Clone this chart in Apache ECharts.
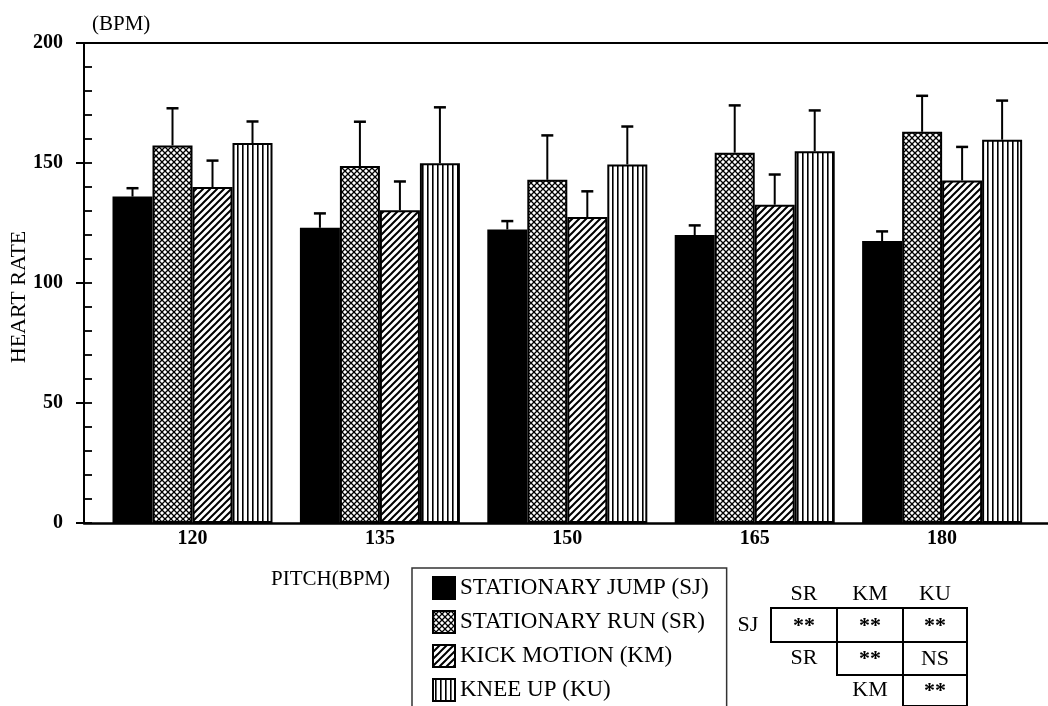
<!DOCTYPE html>
<html>
<head>
<meta charset="utf-8">
<script src="https://cdn.jsdelivr.net/npm/echarts@6/dist/echarts.min.js"></script>
<style>
  html, body { margin: 0; padding: 0; background: #fff; }
  #chart { width: 1048px; height: 706px; }
</style>
</head>
<body>
<div id="chart"></div>
<script>
// ---- data ----
var PITCHES = ['120', '135', '150', '165', '180'];
var SERIES_NAMES = ['STATIONARY JUMP (SJ)', 'STATIONARY RUN (SR)', 'KICK MOTION (KM)', 'KNEE UP (KU)'];

var SJ_MEAN = [136, 123, 122.3, 120, 117.5];
var SR_MEAN = [157.3, 148.7, 143, 154.3, 163];
var KM_MEAN = [140, 130.3, 127.5, 132.6, 142.7];
var KU_MEAN = [158.3, 149.9, 149.4, 154.9, 159.7];

var SJ_SD = [3.5, 6, 3.5, 4, 4];
var SR_SD = [15.5, 18.5, 18.5, 19.7, 15];
var KM_SD = [11, 12, 10.7, 12.6, 14];
var KU_SD = [9, 23.3, 15.8, 17, 16.3];

var Y_TICKS = [0, 50, 100, 150, 200];

// significance table
var TABLE_COLS = ['SR', 'KM', 'KU'];
var TABLE_ROW_LABELS = ['SJ', 'SR', 'KM'];
var TABLE_CELLS = [
  ['**', '**', '**'],
  ['**', 'NS'],
  ['**']
];

var MEANS = [SJ_MEAN, SR_MEAN, KM_MEAN, KU_MEAN];
var SDS = [SJ_SD, SR_SD, KM_SD, KU_SD];

// ---- style ----
var FONT = 'Liberation Serif';
var BAR_W = 40;

function makePattern(kind) {
  var c = document.createElement('canvas');
  var ctx;
  if (kind === 'cross') {
    c.width = 6; c.height = 6;
    ctx = c.getContext('2d');
    ctx.fillStyle = '#fff'; ctx.fillRect(0, 0, 6, 6);
    ctx.strokeStyle = '#000'; ctx.lineWidth = 1.3;
    ctx.beginPath();
    ctx.moveTo(0, 0); ctx.lineTo(6, 6);
    ctx.moveTo(0, 6); ctx.lineTo(6, 0);
    ctx.stroke();
  } else if (kind === 'diag') {
    var s = 7;
    c.width = s; c.height = s;
    ctx = c.getContext('2d');
    ctx.fillStyle = '#fff'; ctx.fillRect(0, 0, s, s);
    ctx.strokeStyle = '#000'; ctx.lineWidth = 2;
    ctx.beginPath();
    ctx.moveTo(-1, s + 1); ctx.lineTo(s + 1, -1);
    ctx.moveTo(-1, 1); ctx.lineTo(1, -1);
    ctx.moveTo(s - 1, s + 1); ctx.lineTo(s + 1, s - 1);
    ctx.stroke();
  } else {
    c.width = 5; c.height = 4;
    ctx = c.getContext('2d');
    ctx.fillStyle = '#fff'; ctx.fillRect(0, 0, 5, 4);
    ctx.fillStyle = '#000'; ctx.fillRect(2, 0, 1.6, 4);
  }
  return { image: c, repeat: 'repeat' };
}

var FILLS = ['#000', makePattern('cross'), makePattern('diag'), makePattern('vert')];

// ---- series ----
var barSeries = SERIES_NAMES.map(function(name, k) {
  return {
    name: name,
    type: 'bar',
    xAxisIndex: 0,
    yAxisIndex: 0,
    barWidth: BAR_W,
    barGap: '0%',
    data: MEANS[k].map(function(v, i) { return [i, v]; }),
    itemStyle: { color: FILLS[k], borderColor: '#000', borderWidth: 2 },
    emphasis: { disabled: true },
    z: 2
  };
});

var errData = [];
MEANS.forEach(function(arr, k) {
  arr.forEach(function(v, i) { errData.push([k, i, v, v + SDS[k][i]]); });
});

function renderErr(params, api) {
  var k = api.value(0), i = api.value(1);
  var top = api.coord([i, api.value(2)]);
  var cap = api.coord([i, api.value(3)]);
  var x = top[0] + (k - 1.5) * BAR_W;
  return {
    type: 'group',
    children: [
      { type: 'line', shape: { x1: x, y1: top[1], x2: x, y2: cap[1] }, style: { stroke: '#000', lineWidth: 2 } },
      { type: 'line', shape: { x1: x - 6, y1: cap[1], x2: x + 6, y2: cap[1] }, style: { stroke: '#000', lineWidth: 2.5 } }
    ]
  };
}

// ---- table graphic ----
var COL_EDGES = [771, 837, 903, 967];
var ROW_EDGES = [608, 642, 675, 706];

function tableGraphics() {
  var g = [];
  var txt = function(x, y, s, bold) {
    return { type: 'text', x: x, y: y, style: { text: s, fill: '#000', font: (bold ? 'bold ' : '') + '22px "' + FONT + '"', align: 'center', verticalAlign: 'middle' } };
  };
  TABLE_COLS.forEach(function(c, j) {
    g.push(txt((COL_EDGES[j] + COL_EDGES[j + 1]) / 2, 594, c));
  });
  TABLE_CELLS.forEach(function(row, r) {
    var y0 = ROW_EDGES[r], y1 = ROW_EDGES[r + 1], cy = (y0 + y1) / 2;
    var x0 = COL_EDGES[r];
    g.push({ type: 'rect', shape: { x: x0, y: y0, width: COL_EDGES[3] - x0, height: y1 - y0 }, style: { fill: null, stroke: '#000', lineWidth: 2 } });
    row.forEach(function(cell, j) {
      var col = r + j;
      if (j > 0) {
        g.push({ type: 'line', shape: { x1: COL_EDGES[col], y1: y0, x2: COL_EDGES[col], y2: y1 }, style: { stroke: '#000', lineWidth: 2 } });
      }
      g.push(txt((COL_EDGES[col] + COL_EDGES[col + 1]) / 2, cy + 1, cell, cell === '**'));
    });
    var lx = r === 0 ? 748 : (COL_EDGES[r - 1] + COL_EDGES[r]) / 2;
    g.push(txt(lx, cy, TABLE_ROW_LABELS[r]));
  });
  return g;
}

var chart = echarts.init(document.getElementById('chart'));

var xCommon = {
  type: 'value', min: -0.579, max: 4.565,
  splitLine: { show: false },
  axisTick: { show: false }
};

chart.setOption({
  backgroundColor: '#fff',
  animation: false,
  grid: { left: 84, right: 0, top: 43, bottom: 183 },
  xAxis: [
    Object.assign({}, xCommon, {
      position: 'bottom',
      axisLine: { onZero: false, lineStyle: { color: '#000', width: 2.5 } },
      axisLabel: {
        customValues: [0, 1, 2, 3, 4],
        formatter: function(v) { return PITCHES[Math.round(v)]; },
        color: '#000', fontFamily: FONT, fontWeight: 'bold', fontSize: 20, margin: 6
      }
    }),
    Object.assign({}, xCommon, {
      position: 'top',
      axisLine: { onZero: false, lineStyle: { color: '#000', width: 2 } },
      axisLabel: { show: false }
    })
  ],
  yAxis: [
    {
      type: 'value', min: 0, max: 200, interval: 50, position: 'left',
      axisLine: { show: true, onZero: false, lineStyle: { color: '#000', width: 2 } },
      axisTick: { show: true, length: 8, lineStyle: { color: '#000', width: 2 } },
      axisLabel: {
        customValues: Y_TICKS,
        color: '#000', fontFamily: FONT, fontWeight: 'bold', fontSize: 20, margin: 21
      },
      splitLine: { show: false }
    },
    {
      type: 'value', min: 0, max: 200, interval: 10, position: 'left',
      axisLine: { show: false, onZero: false },
      axisTick: { show: true, inside: true, length: 8, lineStyle: { color: '#000', width: 1.8 } },
      axisLabel: { show: false },
      splitLine: { show: false }
    }
  ],
  legend: {
    data: SERIES_NAMES,
    orient: 'vertical',
    left: 412, top: 568,
    height: 300,
    icon: 'rect',
    itemWidth: 22, itemHeight: 22,
    itemGap: 10,
    padding: [8, 18, 30, 20],
    borderColor: '#333', borderWidth: 1.5,
    selectedMode: false,
    textStyle: { color: '#000', fontFamily: FONT, fontSize: 23 }
  },
  graphic: [
    { type: 'text', x: 92, y: 24, style: { text: '(BPM)', fill: '#000', font: '21px "' + FONT + '"', verticalAlign: 'middle' } },
    { type: 'text', x: 271, y: 579, style: { text: 'PITCH(BPM)', fill: '#000', font: '21px "' + FONT + '"', verticalAlign: 'middle' } },
    { type: 'text', x: 19, y: 297, rotation: Math.PI / 2, style: { text: 'HEART RATE', fill: '#000', font: '22px "' + FONT + '"', align: 'center', verticalAlign: 'middle' } }
  ].concat(tableGraphics()),
  series: barSeries.concat([{
    type: 'custom',
    xAxisIndex: 0,
    yAxisIndex: 0,
    renderItem: renderErr,
    encode: { x: 1, y: 3 },
    data: errData,
    silent: true,
    z: 3
  }])
});
</script>
</body>
</html>
